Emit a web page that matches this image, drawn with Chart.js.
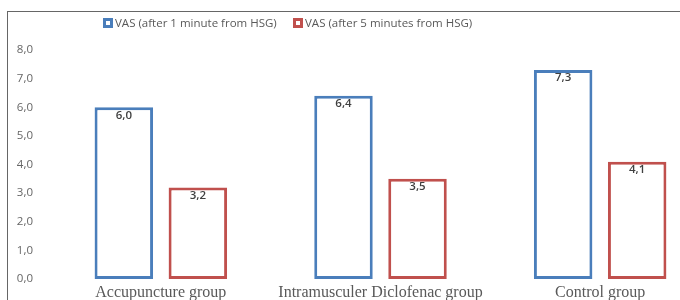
<!DOCTYPE html>
<html>
<head>
<meta charset="utf-8">
<script src="https://cdn.jsdelivr.net/npm/chart.js@4/dist/chart.umd.min.js"></script>
<style>
  html, body { margin: 0; padding: 0; width: 680px; height: 300px; overflow: hidden; background: #fff; }
  #wrap { position: absolute; left: 0; top: 0; width: 720px; height: 304px; }
  #frame { position: absolute; left: 7px; top: 11px; width: 800px; height: 400px;
           border-top: 1px solid #666; border-left: 1px solid #666; pointer-events: none; }
  #legend { position: absolute; top: 15px; left: 0; height: 14px;
            font: 11.5px "Open Sans", sans-serif; color: #595959; }
  .item { position: absolute; top: 0; display: flex; align-items: center; white-space: nowrap; }
  .box { width: 10px; height: 10px; box-sizing: border-box; border: 3px solid; background: #fff; margin-right: 2px; }
</style>
</head>
<body>
<div id="wrap"><canvas id="c" width="720" height="304"></canvas></div>
<div id="frame"></div>
<div id="legend"></div>
<script>
const categories = ['Accupuncture group', 'Intramusculer Diclofenac group', 'Control group'];
const seriesLabels = ['VAS (after 1 minute from HSG)', 'VAS (after 5 minutes from HSG)'];
const vas1min = [6.0, 6.4, 7.3];
const vas5min = [3.2, 3.5, 4.1];
const yMin = 0, yMax = 8, yStep = 1;

const colors = ['#4A7EBB', '#C0504D'];
const legendLeft = [103, 293];

const fmt = v => v.toFixed(1).replace('.', ',');

const lg = document.getElementById('legend');
seriesLabels.forEach((lab, i) => {
  const it = document.createElement('div');
  it.className = 'item';
  it.style.left = legendLeft[i] + 'px';
  const b = document.createElement('span');
  b.className = 'box';
  b.style.borderColor = colors[i];
  const t = document.createElement('span');
  t.textContent = lab;
  it.appendChild(b); it.appendChild(t);
  lg.appendChild(it);
});

const valueLabels = {
  id: 'valueLabels',
  afterDatasetsDraw(chart) {
    const ctx = chart.ctx;
    ctx.save();
    ctx.font = '600 11.5px "Open Sans", sans-serif';
    ctx.fillStyle = '#404040';
    ctx.textAlign = 'center';
    ctx.textBaseline = 'middle';
    chart.data.datasets.forEach((ds, di) => {
      chart.getDatasetMeta(di).data.forEach((el, i) => {
        ctx.fillText(fmt(ds.data[i]), el.x, el.y + 8);
      });
    });
    ctx.restore();
  }
};

new Chart(document.getElementById('c'), {
  type: 'bar',
  data: {
    labels: categories,
    datasets: [
      { label: seriesLabels[0], data: vas1min, backgroundColor: '#ffffff', borderColor: colors[0], borderWidth: 3, borderSkipped: false },
      { label: seriesLabels[1], data: vas5min, backgroundColor: '#ffffff', borderColor: colors[1], borderWidth: 3, borderSkipped: false }
    ]
  },
  options: {
    responsive: false,
    animation: false,
    events: [],
    categoryPercentage: 0.674,
    barPercentage: 0.79,
    layout: { padding: { top: 50, right: 10, left: 0, bottom: 0 } },
    plugins: { legend: { display: false }, tooltip: { enabled: false } },
    scales: {
      x: {
        grid: { display: false, drawTicks: false },
        border: { display: false },
        ticks: { padding: 4, color: '#595959', font: { family: '"Liberation Serif", serif', size: 16 } },
        afterFit(s) { s.height = 21; }
      },
      y: {
        min: yMin, max: yMax,
        grid: { display: false, drawTicks: false },
        border: { display: false },
        ticks: { stepSize: yStep, padding: 18, color: '#666666',
                 font: { family: '"Open Sans", sans-serif', size: 11.5 },
                 callback: v => fmt(v) },
        afterFit(s) { s.width = 51; }
      }
    }
  },
  plugins: [valueLabels]
});
</script>
</body>
</html>
